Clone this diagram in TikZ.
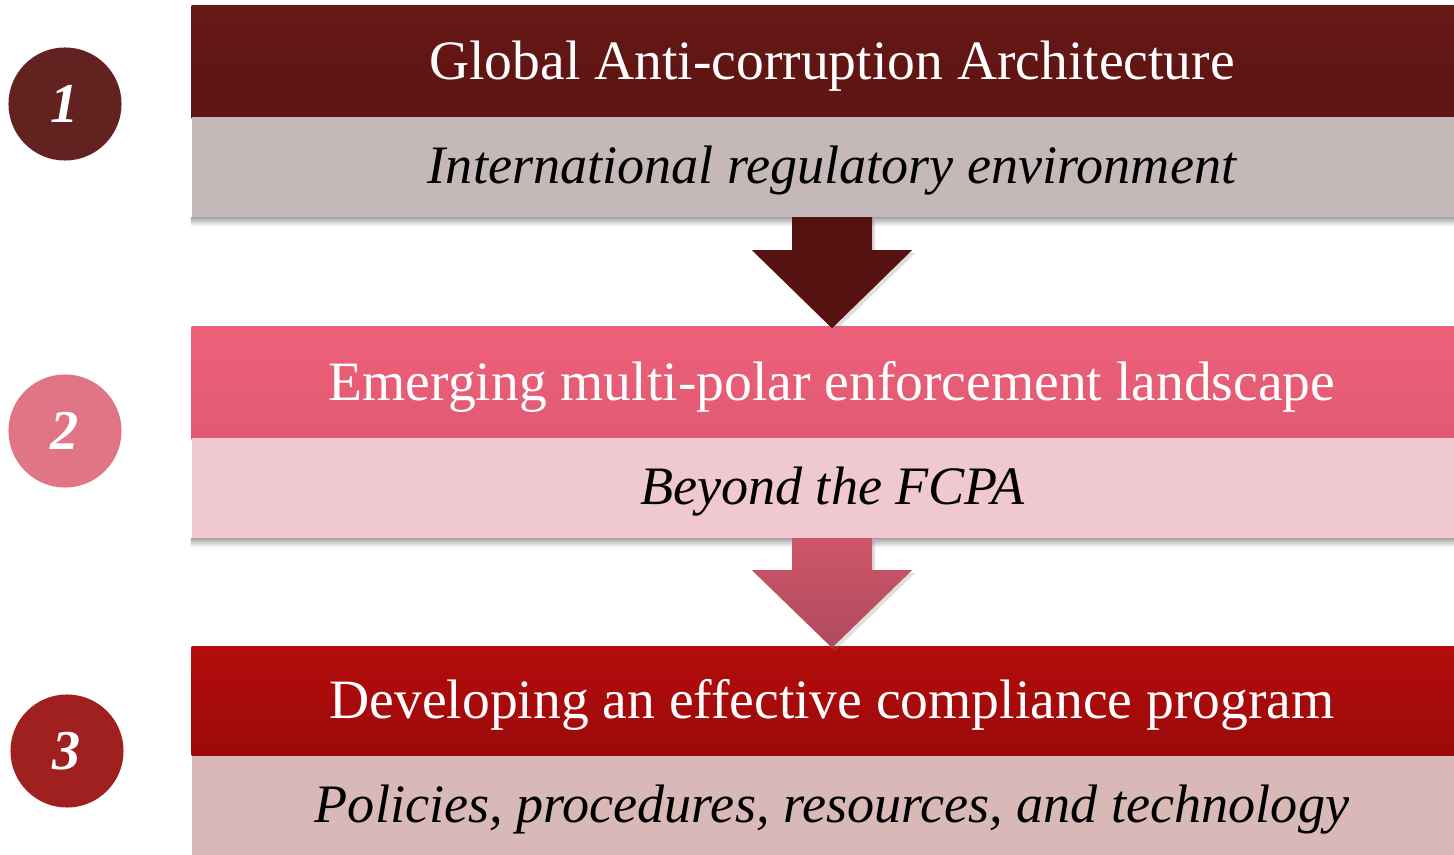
\documentclass[tikz,border=0pt]{standalone}
\usepackage{fontspec}
\setmainfont{Liberation Serif}
\usepackage{tikz}
\usetikzlibrary{calc,shadows}

\definecolor{topA}{HTML}{661816}
\definecolor{topAd}{HTML}{5E1513}
\definecolor{subA}{HTML}{C4B9B8}
\definecolor{numA}{HTML}{622220}
\definecolor{arrA}{HTML}{561210}
\definecolor{topB}{HTML}{EE607A}
\definecolor{topBd}{HTML}{E05A72}
\definecolor{subB}{HTML}{F0C8CF}
\definecolor{numB}{HTML}{E07585}
\definecolor{arrB}{HTML}{CE5569}
\definecolor{arrBd}{HTML}{AE4B5D}
\definecolor{topC}{HTML}{B40C0C}
\definecolor{topCd}{HTML}{9C0A0A}
\definecolor{subC}{HTML}{D9B8B8}
\definecolor{numC}{HTML}{A02020}

\begin{document}
\begin{tikzpicture}[x=0.01cm,y=-0.01cm,
                    bandtop/.style={rectangle,minimum width=12.8cm,minimum height=1.12cm,
                                    text=white,font=\fontsize{15.8}{16}\selectfont,inner sep=0pt,
                                    text height=10pt,text depth=0pt},
                    bandsub/.style={rectangle,minimum width=12.8cm,minimum height=0.99cm,
                                    text=black,font=\fontsize{15.4}{16}\selectfont\itshape,inner sep=0pt,
                                    text height=9.4pt,text depth=0pt},
                    numdisc/.style={circle,minimum size=1.13cm,text=white,inner sep=0pt,
                                    font=\fontsize{16}{16}\selectfont\bfseries\itshape},
                    shadowstrip/.style={top color=black!35,bottom color=white,draw=none}]
  \useasboundingbox (0,0) rectangle (1454,855);

  % row 1
  \node[numdisc,fill=numA] (n1) at (65,104) {1};
  \node[bandtop,top color=topA,bottom color=topAd] (top1) at (832,62) {Global Anti-corruption Architecture};
  \node[bandsub,fill=subA] (sub1) at (832,167) {International regulatory environment};
  \shade[shadowstrip] (sub1.south west) rectangle ($(sub1.south east)+(0,9)$);

  % row 2
  \node[numdisc,fill=numB] (n2) at (65,431) {2};
  \node[bandtop,top color=topB,bottom color=topBd] (top2) at (832,383) {Emerging multi-polar enforcement landscape};
  \node[bandsub,fill=subB] (sub2) at (832,488) {Beyond the FCPA};
  \shade[shadowstrip] (sub2.south west) rectangle ($(sub2.south east)+(0,9)$);

  % row 3
  \node[numdisc,fill=numC] (n3) at (67,751) {3};
  \node[bandtop,top color=topC,bottom color=topCd,minimum height=1.09cm] (top3) at (832,701) {Developing an effective compliance program};
  \node[bandsub,fill=subC,minimum height=1.0cm] (sub3) at (832,806) {Policies, procedures, resources, and technology};

  % arrows
  \fill[arrA,drop shadow={opacity=0.25,shadow xshift=0.03cm,shadow yshift=-0.03cm}]
    ($(sub1.south)+(-40,0)$) -- ($(sub1.south)+(-40,33)$) -- ($(sub1.south)+(-80,33)$)
    -- ($(top2.north)+(0,2)$) -- ($(sub1.south)+(80,33)$) -- ($(sub1.south)+(40,33)$)
    -- ($(sub1.south)+(40,0)$) -- cycle;
  \shade[top color=arrB,bottom color=arrBd,drop shadow={opacity=0.25,shadow xshift=0.03cm,shadow yshift=-0.03cm}]
    ($(sub2.south)+(-40,0)$) -- ($(sub2.south)+(-40,32)$) -- ($(sub2.south)+(-80,32)$)
    -- ($(top3.north)+(0,2)$) -- ($(sub2.south)+(80,32)$) -- ($(sub2.south)+(40,32)$)
    -- ($(sub2.south)+(40,0)$) -- cycle;
\end{tikzpicture}
\end{document}
